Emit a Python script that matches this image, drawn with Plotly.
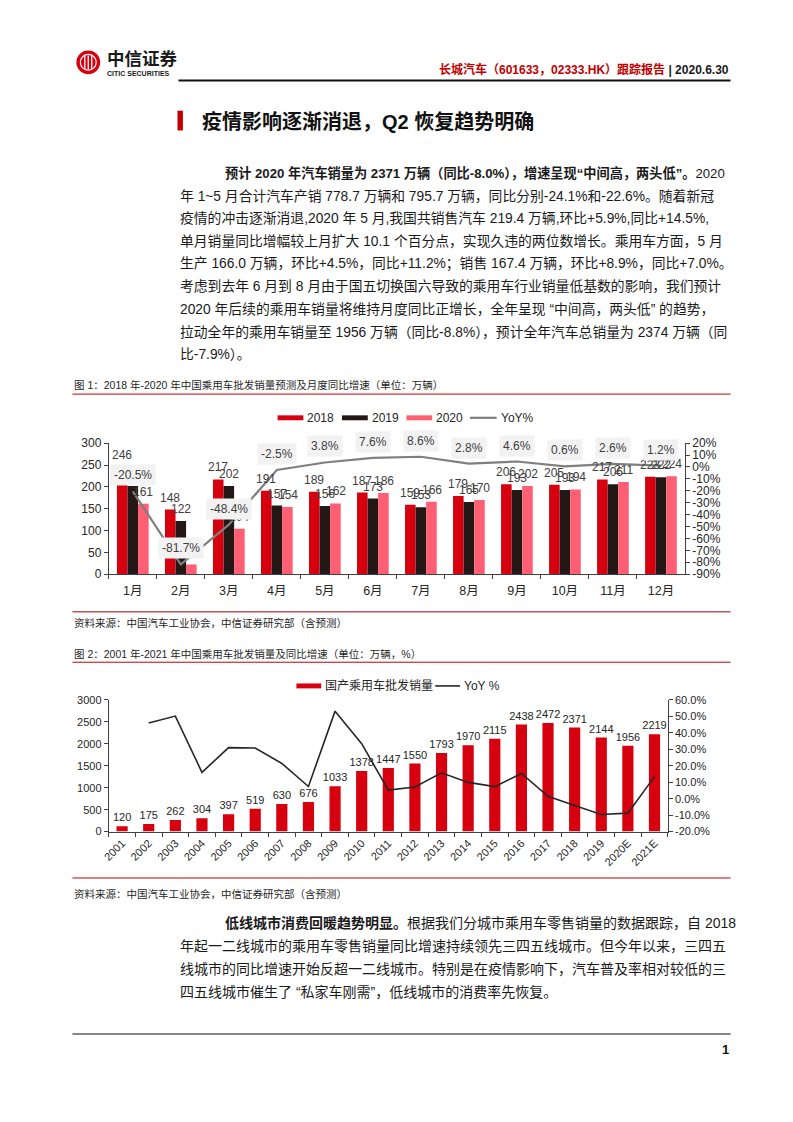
import plotly.graph_objects as go

W, H = 793, 1122
def px(x): return x / W
def py(y): return 1 - y / H

# ---------------- Chart 1 data ----------------
months = ["1月", "2月", "3月", "4月", "5月", "6月", "7月", "8月", "9月", "10月", "11月", "12月"]
sales_2018 = [207, 148, 217, 191, 189, 187, 159, 179, 206, 205, 217, 223]
sales_2019 = [202, 122, 202, 157, 156, 173, 153, 165, 193, 193, 206, 222]
sales_2020 = [161, 22, 104, 154, 162, 186, 166, 170, 202, 194, 211, 224]
labels_2018 = ["246", "148", "217", "191", "189", "187", "159", "179", "206", "205", "217", "223"]
labels_2019 = ["202", "122", "202", "157", "156", "173", "153", "165", "193", "193", "206", "222"]
labels_2020 = ["161", "22", "104", "154", "162", "186", "166", "170", "202", "194", "211", "224"]
yoy_2020 = [-20.5, -81.7, -48.4, -2.5, 3.8, 7.6, 8.6, 2.8, 4.6, 0.6, 2.6, 1.2]
left1_ticks = [0, 50, 100, 150, 200, 250, 300]
right1_ticks = [20, 10, 0, -10, -20, -30, -40, -50, -60, -70, -80, -90]
right1_text = ["20%", "10%", "0%", "-10%", "-20%", "-30%", "-40%", "-50%", "-60%", "-70%", "-80%", "-90%"]

# ---------------- Chart 2 data ----------------
years = ["2001", "2002", "2003", "2004", "2005", "2006", "2007", "2008", "2009", "2010",
         "2011", "2012", "2013", "2014", "2015", "2016", "2017", "2018", "2019", "2020E", "2021E"]
wholesale = [120, 175, 262, 304, 397, 519, 630, 676, 1033, 1378,
             1447, 1550, 1793, 1970, 2115, 2438, 2472, 2371, 2144, 1956, 2219]
yoy_hist = [None, 46.0, 50.2, 16.0, 31.0, 30.8, 21.4, 7.4, 53.2, 33.4,
            5.2, 7.1, 15.7, 9.9, 7.3, 15.3, 1.4, -4.1, -9.6, -8.8, 13.4]
left2_ticks = [0, 500, 1000, 1500, 2000, 2500, 3000]
right2_ticks = [60, 50, 40, 30, 20, 10, 0, -10, -20]
right2_text = ["60.0%", "50.0%", "40.0%", "30.0%", "20.0%", "10.0%", "0.0%", "-10.0%", "-20.0%"]

RED = "#d7000f"
BLACK = "#231815"
PINK = "#fe5f72"
LAT = "Liberation Sans, Arial, Noto Sans CJK SC, sans-serif"
CJK = "Liberation Sans, Noto Sans CJK SC, sans-serif"

fig = go.Figure()

# chart 1 bars
for name, vals, col in [("2018", sales_2018, RED), ("2019", sales_2019, BLACK), ("2020", sales_2020, PINK)]:
    fig.add_trace(go.Bar(x=months, y=vals, name=name, marker_color=col, marker_line_width=0,
                         xaxis="x", yaxis="y", showlegend=False, offsetgroup=name))
fig.add_trace(go.Scatter(x=months, y=yoy_2020, mode="lines", name="YoY%",
                         line=dict(color="#7f7f7f", width=2.2),
                         xaxis="x", yaxis="y2", showlegend=False))

# chart 2
fig.add_trace(go.Bar(x=years, y=wholesale, name="国产乘用车批发销量", marker_color=RED,
                     marker_line_width=0, width=0.42,
                     text=[str(v) for v in wholesale], textposition="outside", constraintext="none",
                     textfont=dict(family=LAT, size=11, color="#262626"),
                     cliponaxis=False, xaxis="x2", yaxis="y3", showlegend=False))
fig.add_trace(go.Scatter(x=years, y=yoy_hist, mode="lines", name="YoY %",
                         line=dict(color="#262626", width=1.6),
                         xaxis="x2", yaxis="y4", showlegend=False))

AX = "#404040"
axis_common = dict(showgrid=False, zeroline=False, showline=True, linecolor=AX, linewidth=1,
                   ticks="outside", tickcolor=AX, ticklen=4)

fig.update_layout(
    width=W, height=H, margin=dict(l=0, r=0, t=0, b=0),
    paper_bgcolor="white", plot_bgcolor="white",
    barmode="group", bargap=0.34, bargroupgap=0,
    xaxis=dict(domain=[px(102.7), px(684)], anchor="y", type="category", tickson="boundaries",
               ticklabelstandoff=5,
               tickfont=dict(family=CJK, size=12.5, color="#262626"), **axis_common),
    yaxis=dict(domain=[py(574.3), py(441.7)], anchor="x", range=[0, 300],
               tickmode="array", tickvals=left1_ticks,
               tickfont=dict(family=LAT, size=12, color="#262626"), **axis_common),
    yaxis2=dict(domain=[py(574.3), py(441.7)], anchor="x", overlaying="y", side="right",
                range=[-90, 20], tickmode="array", tickvals=right1_ticks, ticktext=right1_text,
                tickfont=dict(family=LAT, size=12, color="#262626"), **axis_common),
    xaxis2=dict(domain=[px(102.7), px(666.7)], anchor="y3", type="category", tickson="boundaries",
                tickangle=-45, tickfont=dict(family=LAT, size=11, color="#262626"), **axis_common),
    yaxis3=dict(domain=[py(835), py(701.7)], anchor="x2", range=[0, 3000],
                tickmode="array", tickvals=left2_ticks,
                tickfont=dict(family=LAT, size=11, color="#262626"), **axis_common),
    yaxis4=dict(domain=[py(835), py(701.7)], anchor="x2", overlaying="y3", side="right",
                range=[-20, 60], tickmode="array", tickvals=right2_ticks, ticktext=right2_text,
                tickfont=dict(family=LAT, size=11, color="#262626"), **axis_common),
)

ann = []
shapes = []

# bar value labels chart 1 (placed at each label's value, offset to its bar in the group)
cat_px = (684 - 102.7) / len(months)
bar_px = cat_px * (1 - 0.34) / 3
for k, labs in enumerate([labels_2018, labels_2019, labels_2020]):
    for m, lab in zip(months, labs):
        ann.append(dict(x=m, y=float(lab), xref="x", yref="y", text=lab, showarrow=False,
                        xshift=(k - 1) * bar_px, yshift=12,
                        font=dict(family=LAT, size=12, color="#404040")))

# YoY labels chart 1
for m, v in zip(months, yoy_2020):
    ann.append(dict(x=m, y=v, xref="x", yref="y2", text=f"{v:.1f}%", showarrow=False,
                    yshift=16, bgcolor="#f2f2f2", borderpad=3,
                    font=dict(family=LAT, size=12, color="#404040")))

def text(x, y, s, size, color="#1a1a1a", anchor="left", family=CJK):
    ann.append(dict(x=px(x), y=py(y), xref="paper", yref="paper", text=s, showarrow=False,
                    xanchor=anchor, yanchor="middle", font=dict(family=family, size=size, color=color)))

def hline(x0, x1, y, color, w):
    shapes.append(dict(type="line", xref="paper", yref="paper", x0=px(x0), x1=px(x1),
                       y0=py(y), y1=py(y), line=dict(color=color, width=w)))

def rect(x0, x1, y0, y1, color):
    shapes.append(dict(type="rect", xref="paper", yref="paper", x0=px(x0), x1=px(x1),
                       y0=py(y1), y1=py(y0), fillcolor=color, line=dict(width=0)))

# legends chart 1
rect(273, 299, 413.5, 418.5, RED); text(301, 416, "2018", 12, "#262626", family=LAT)
rect(338, 364, 413.5, 418.5, BLACK); text(366, 416, "2019", 12, "#262626", family=LAT)
rect(403, 429, 413.5, 418.5, PINK); text(431, 416, "2020", 12, "#262626", family=LAT)
hline(467, 494, 416, "#7f7f7f", 2.2); text(496, 416, "YoY%", 12, "#262626", family=LAT)

# legend chart 2
rect(292, 317, 685, 690, RED); text(319, 687.5, "国产乘用车批发销量", 12, "#262626")
hline(432, 457, 687.5, "#262626", 1.6); text(459, 687.5, "YoY %", 12, "#262626", family=LAT)

# header
shapes.append(dict(type="circle", xref="paper", yref="paper", x0=px(70), x1=px(94),
                   y0=py(68), y1=py(44), fillcolor="#d7000f", line=dict(width=0)))
shapes.append(dict(type="circle", xref="paper", yref="paper", x0=px(74), x1=px(90),
                   y0=py(64), y1=py(48), fillcolor="rgba(0,0,0,0)", line=dict(color="white", width=1.2)))
for xx in [78.5, 82, 85.5]:
    shapes.append(dict(type="line", xref="paper", yref="paper", x0=px(xx), x1=px(xx),
                       y0=py(63), y1=py(49), line=dict(color="white", width=1.3)))
text(99, 52.5, "<b>中信证券</b>", 17.5, "#1a1a1a")
text(99, 67, "<b>CITIC SECURITIES</b>", 7, "#1a1a1a", family=LAT)
text(730, 63, "<b><span style='color:#c00000'>长城汽车（601633，02333.HK）跟踪报告</span> | 2020.6.30</b>",
     12, "#1a1a1a", anchor="right")
hline(173, 730, 74.5, "#111111", 2)

# title
rect(172, 177.5, 105, 125, "#c00000")
text(195, 115.5, "<b>疫情影响逐渐消退，Q2 恢复趋势明确</b>", 20, "#111111")

# paragraph 1
p1 = [
    (218, 13.2, "<b>预计 2020 年汽车销量为 2371 万辆（同比-8.0%），增速呈现“中间高，两头低”。</b>2020"),
    (173, 13.8, "年 1~5 月合计汽车产销 778.7 万辆和 795.7 万辆，同比分别-24.1%和-22.6%。随着新冠"),
    (173, 13.8, "疫情的冲击逐渐消退,2020 年 5 月,我国共销售汽车 219.4 万辆,环比+5.9%,同比+14.5%,"),
    (173, 13.8, "单月销量同比增幅较上月扩大 10.1 个百分点，实现久违的两位数增长。乘用车方面，5 月"),
    (173, 13.8, "生产 166.0 万辆，环比+4.5%，同比+11.2%；销售 167.4 万辆，环比+8.9%，同比+7.0%。"),
    (173, 13.8, "考虑到去年 6 月到 8 月由于国五切换国六导致的乘用车行业销量低基数的影响，我们预计"),
    (173, 13.8, "2020 年后续的乘用车销量将维持月度同比正增长，全年呈现 “中间高，两头低” 的趋势，"),
    (173, 13.8, "拉动全年的乘用车销量至 1956 万辆（同比-8.8%），预计全年汽车总销量为 2374 万辆（同"),
    (173, 13.8, "比-7.9%）。"),
]
for i, (x, fs, s) in enumerate(p1):
    text(x, 168 + 23 * i, s, fs, "#1a1a1a")

# captions and sources
text(66, 383, "图 1：2018 年-2020 年中国乘用车批发销量预测及月度同比增速（单位：万辆）", 10.5, "#262626")
hline(66, 730, 392, "#c00000", 1)
hline(66, 730, 612.5, "#a00000", 1)
text(66, 624, "资料来源：中国汽车工业协会，中信证券研究部（含预测）", 10.5, "#262626")
text(66, 655, "图 2：2001 年-2021 年中国乘用车批发销量及同比增速（单位：万辆，%）", 10.5, "#262626")
hline(66, 730, 663.5, "#c00000", 1)
hline(66, 730, 882, "#c00000", 1)
text(66, 898, "资料来源：中国汽车工业协会，中信证券研究部（含预测）", 10.5, "#262626")

# paragraph 2
p2 = [
    (218, "<b>低线城市消费回暖趋势明显。</b>根据我们分城市乘用车零售销量的数据跟踪，自 2018"),
    (173, "年起一二线城市的乘用车零售销量同比增速持续领先三四五线城市。但今年以来，三四五"),
    (173, "线城市的同比增速开始反超一二线城市。特别是在疫情影响下，汽车普及率相对较低的三"),
    (173, "四五线城市催生了 “私家车刚需”，低线城市的消费率先恢复。"),
]
for i, (x, s) in enumerate(p2):
    text(x, 928 + 23 * i, s, 14, "#1a1a1a")

hline(66, 730, 1040, "#111111", 1.2)
text(730, 1056, "<b>1</b>", 13, "#111111", anchor="right", family=LAT)

fig.update_layout(annotations=ann, shapes=shapes)

fig.write_html("out.html", config={"displayModeBar": False},
               post_script="document.body.style.margin='0';document.body.style.overflow='hidden';")
